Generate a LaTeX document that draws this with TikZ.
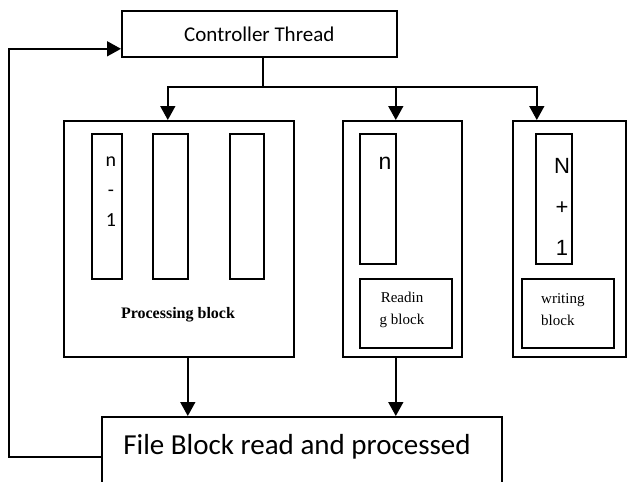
\documentclass[tikz,border=0pt]{standalone}
\usepackage{fontspec}
\setmainfont{Liberation Serif}
\newfontfamily\calibri{Carlito}
\newfontfamily\arial{Liberation Sans}
\usetikzlibrary{positioning,arrows.meta}

\tikzset{
  box/.style={draw, line width=1.6pt, rectangle, inner sep=0pt, anchor=north west},
  wire/.style={line width=1.6pt},
  arr/.style={line width=1.6pt, -{Triangle[length=14pt,width=15pt]}},
  lbl/.style={inner sep=0pt, align=center},
}

\begin{document}
\begin{tikzpicture}[x=1pt,y=-1pt]
    \useasboundingbox (0,0) rectangle (627,482);

    % Controller Thread
    \node[box, minimum width=275pt, minimum height=46pt,
          font=\calibri\fontsize{21}{25}\selectfont] (ctrl) at (121,10) {Controller Thread};

    % Outer blocks
    \node[box, minimum width=230pt, minimum height=236pt] (proc) at (63,120) {};
    \node[box, minimum width=119pt, minimum height=236pt] (read) at (342,120) {};
    \node[box, minimum width=113pt, minimum height=236pt] (write) at (512,120) {};

    % Columns in processing block
    \node[box, minimum width=30pt, minimum height=145pt] (colA) at (91,133) {};
    \node[box, minimum width=35pt, minimum height=145pt] (colB) at (152,133) {};
    \node[box, minimum width=34pt, minimum height=145pt] (colC) at (229,133) {};
    \node[lbl, font=\calibri\fontsize{20}{30}\selectfont] (colAtxt) at (111,192) {n\\-\\1};
    \node[lbl, font=\fontsize{16}{18}\selectfont\bfseries] (proctxt) at (178,315) {Processing block};

    % Reading block
    \node[box, minimum width=36pt, minimum height=130pt] (colR) at (359,133) {};
    \node[lbl, font=\arial\fontsize{23}{26}\selectfont] (colRtxt) at (385,163) {n};
    \node[box, minimum width=92pt, minimum height=69pt] (rblk) at (359,278) {};
    \node[lbl, font=\fontsize{15}{22}\selectfont] (rblktxt) at (402,310) {Readin\\g block};

    % Writing block
    \node[box, minimum width=36pt, minimum height=130pt] (colW) at (535,133) {};
    \node[lbl, font=\arial\fontsize{22}{41}\selectfont] (colWtxt) at (562,207) {N\\+\\1};
    \node[box, minimum width=92pt, minimum height=69pt] (wblk) at (521,278) {};
    \node[lbl, align=left, anchor=west, font=\fontsize{15}{22}\selectfont] (wblktxt) at (541,310) {writing\\block};

    % File block
    \node[box, minimum width=400pt, minimum height=84pt] (file) at (101,416) {};
    \node[lbl, font=\calibri\fontsize{29}{34}\selectfont] (filetxt) at (297,447) {File Block read and processed};

    % Controller to blocks
    \coordinate (bus) at (263,87);
    \draw[wire] (ctrl.south -| bus) -- (bus);
    \draw[arr] (bus) -| ([xshift=-11pt]proc.north);
    \draw[arr] (bus) -| ([xshift=-6.5pt]read.north);
    \draw[arr] (bus) -| ([xshift=-32.5pt]write.north);

    % Blocks to file block
    \draw[arr] ([xshift=9pt]proc.south) -- ([xshift=9pt]proc.south |- file.north);
    \draw[arr] ([xshift=-6.5pt]read.south) -- ([xshift=-6.5pt]read.south |- file.north);

    % Feedback loop
    \draw[arr] ([yshift=2pt]file.west) -- ++(-92,0) |- ([yshift=-15pt]ctrl.west);

\end{tikzpicture}
\end{document}
